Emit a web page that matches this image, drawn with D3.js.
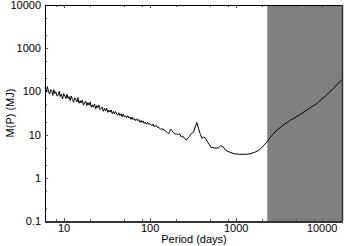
<!DOCTYPE html>
<html><head><meta charset="utf-8">
<script src="https://cdn.jsdelivr.net/npm/d3@7"></script>
<style>body{margin:0;background:#fff}svg{display:block}text{font-family:"Liberation Sans",Arial,Helvetica,sans-serif;}</style>
</head><body>
<svg id="chart" width="344" height="246"></svg>
<script>
const periods = [6.0,6.2,6.4,6.6,6.8,7.0,7.2,7.4,7.6,7.8,8.0,8.3,8.5,8.8,9.0,9.3,9.6,9.9,10.2,10.5,10.8,11.1,11.4,11.8,12.1,12.5,12.9,13.3,13.7,14.1,14.5,14.9,15.4,15.8,16.3,16.8,17.3,17.8,18.4,18.9,19.5,20.1,20.7,21.3,21.9,22.6,23.3,24.0,24.7,25.4,26.2,27.0,27.8,28.6,29.5,30.4,31.3,32.2,33.2,34.2,35.2,36.3,37.4,38.5,39.6,40.8,42.0,43.3,44.6,45.9,47.3,48.7,50.2,51.7,53.2,54.8,56.5,58.2,59.9,61.7,63.6,65.5,67.4,69.5,71.5,73.7,75.9,78.2,80.5,82.9,85.4,88.0,90.6,93.3,96.1,99.0,102,105,108,111,115,118,122,125,129,133,137,141,145,150,154,159,164,169,174,179,184,190,196,202,208,214,220,230,240,252,265,285,300,320,335,350,365,385,400,420,440,470,510,560,620,660,700,760,850,950,1100,1300,1450,1650,1850,2100,2300,2600,2950,3500,4200,5500,7000,8600,11000,14000,17000];
const masses = [125,99,129,98,87,109,100,81,109,90,98,78,81,101,76,87,67,89,78,68,86,69,76,61,78,65,56,71,64,57,72,53,61,54,63,48,54,60,47,55,48,57,43,49,43,51,39,47,42,48,38,40.5,43.3,34.6,40.4,35.5,40.8,32.8,36.7,33.2,37.4,30.6,34.3,30.1,34.3,30.0,28.2,32.0,27.5,30.2,25.9,29.9,25.8,27.2,24.4,27.2,24.2,25.7,22.5,25.5,22.1,23.6,21.1,23.3,21.0,22.3,19.3,21.2,19.2,20.8,18.2,19.5,17.4,19.1,17.3,17.7,17.2,16.0,17.5,15.3,15.9,16.4,14.6,15.2,13.8,13.2,14.0,12.8,13.0,12.2,11.8,11.2,10.6,11.8,13.4,12.6,11.4,10.9,10.2,10.6,9.9,10.1,10.5,8.8,9.2,8.0,7.5,9.0,10.5,11.5,15,19,14,10,8.2,8.8,8.3,6.5,5.1,4.9,4.9,5.5,5.3,4.3,3.9,3.6,3.5,3.5,3.6,3.9,4.4,5.6,6.9,9.6,12.5,16.5,21,29,40,52,80,126,190];
const xTickValues = [10,100,1000,10000];
const yTickValues = [0.1,1,10,100,1000,10000];
const shadeStart = 2300;
const xDomain = [6,17000];
const yDomain = [0.1,10000];
const xLabel = "Period (days)";
const yLabel = "M(P) (MJ)";

const L=45,R=342,T=5,B=221;
const svg=d3.select("#chart");
const x=d3.scaleLog().domain(xDomain).range([L,R]);
const y=d3.scaleLog().domain(yDomain).range([B,T]);

svg.append("rect").attr("x",x(shadeStart)).attr("y",T).attr("width",x(xDomain[1])-x(shadeStart)).attr("height",B-T).attr("fill","#808080");

const xMinor=[], yMinor=[];
[1,10,100,1000,10000].forEach(d=>[2,5,8].forEach(m=>{const v=d*m; if(v>xDomain[0]&&v<xDomain[1]) xMinor.push(v);}));
[0.1,1,10,100,1000].forEach(d=>[2,5].forEach(m=>yMinor.push(d*m)));

const tk=svg.append("g").attr("stroke","#555").attr("stroke-width",1);
xTickValues.forEach(v=>{const px=Math.round(x(v))+0.5;tk.append("line").attr("x1",px).attr("x2",px).attr("y1",B).attr("y2",B-3);tk.append("line").attr("x1",px).attr("x2",px).attr("y1",T).attr("y2",T+3);});
xMinor.forEach(v=>{const px=Math.round(x(v))+0.5;tk.append("line").attr("x1",px).attr("x2",px).attr("y1",B).attr("y2",B-2);tk.append("line").attr("x1",px).attr("x2",px).attr("y1",T).attr("y2",T+2);});
yTickValues.forEach(v=>{const py=Math.round(y(v))+0.5;tk.append("line").attr("x1",L).attr("x2",L+3).attr("y1",py).attr("y2",py);});
yMinor.forEach(v=>{const py=Math.round(y(v))+0.5;tk.append("line").attr("x1",L).attr("x2",L+2).attr("y1",py).attr("y2",py);});

const data=periods.map((p,i)=>({p,m:masses[i]}));
svg.append("path").datum(data).attr("fill","none").attr("stroke","#000").attr("stroke-width",1)
  .attr("d",d3.line().x(d=>x(d.p)).y(d=>y(d.m)));

svg.append("line").attr("x1",L).attr("x2",R+1).attr("y1",T+0.5).attr("y2",T+0.5).attr("stroke","#000");
svg.append("line").attr("x1",L+0.5).attr("x2",L+0.5).attr("y1",T).attr("y2",B).attr("stroke","#000");
svg.append("line").attr("x1",R+0.5).attr("x2",R+0.5).attr("y1",T).attr("y2",B).attr("stroke","#333").attr("stroke-width",1.5);
svg.append("line").attr("x1",L).attr("x2",R+1).attr("y1",B+1).attr("y2",B+1).attr("stroke","#333").attr("stroke-width",2);

const fmt=v=>v<1?String(v):d3.format("d")(v);
svg.append("g").selectAll("text").data(xTickValues).join("text")
  .attr("x",d=>x(d)).attr("y",232).attr("text-anchor","middle").attr("font-size",11).attr("fill","#000").text(fmt);
svg.append("g").selectAll("text").data(yTickValues).join("text")
  .attr("x",41).attr("y",d=>y(d)).attr("dy","0.36em").attr("text-anchor","end").attr("font-size",11).attr("fill","#000").text(fmt);
svg.append("text").attr("x",194).attr("y",243).attr("text-anchor","middle").attr("font-size",11).text(xLabel);
svg.append("text").attr("transform","translate(14,113) rotate(-90)").attr("text-anchor","middle").attr("font-size",11).text(yLabel);
</script>
</body></html>
